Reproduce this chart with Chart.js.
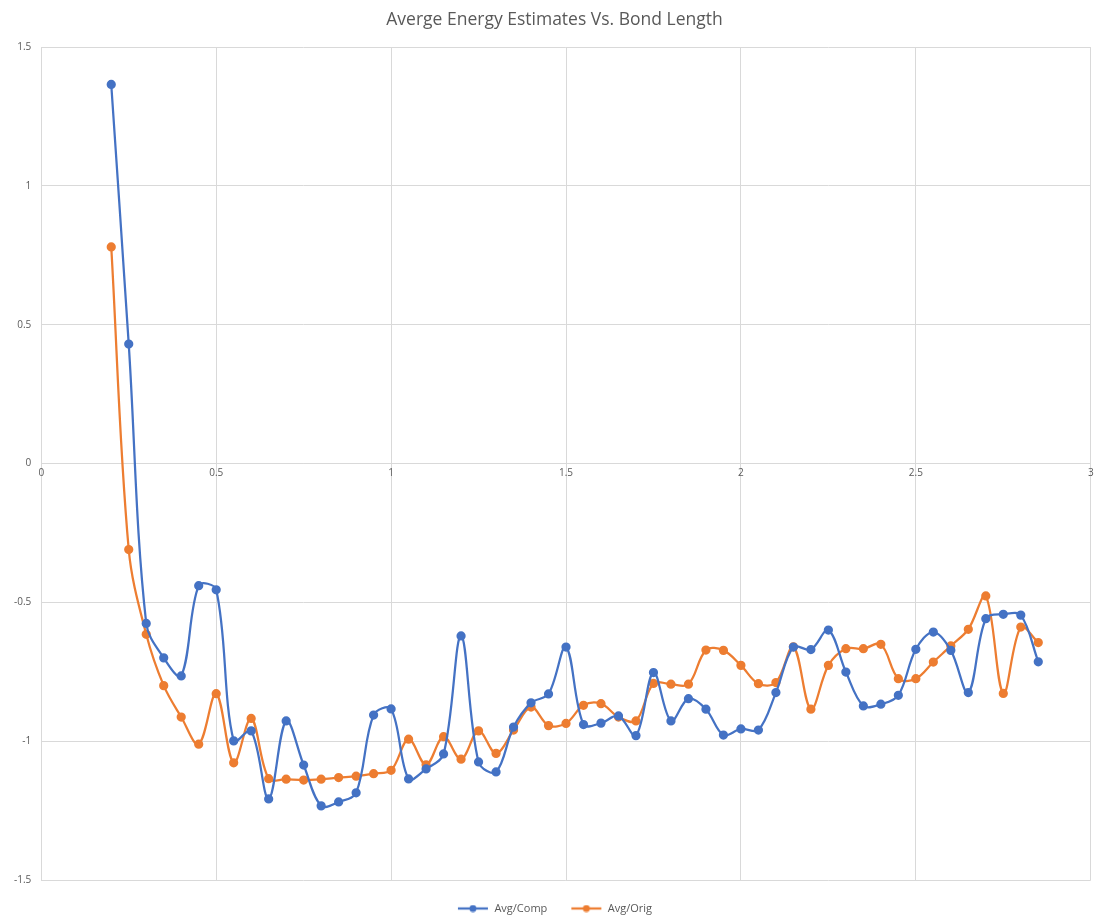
<!DOCTYPE html>
<html>
<head>
<meta charset="utf-8">
<script src="https://cdn.jsdelivr.net/npm/chart.js@4.4.1/dist/chart.umd.min.js"></script>
<style>
  html, body { margin: 0; padding: 0; background: #fff; }
  #wrap { width: 1097px; height: 918px; }
</style>
</head>
<body>
<div id="wrap"><canvas id="chart"></canvas></div>
<script>
const bondLength = [0.2, 0.25, 0.3, 0.35, 0.4, 0.45, 0.5, 0.55, 0.6, 0.65, 0.7, 0.75, 0.8, 0.85, 0.9, 0.95,
  1.0, 1.05, 1.1, 1.15, 1.2, 1.25, 1.3, 1.35, 1.4, 1.45, 1.5, 1.55, 1.6, 1.65, 1.7, 1.75, 1.8, 1.85, 1.9, 1.95,
  2.0, 2.05, 2.1, 2.15, 2.2, 2.25, 2.3, 2.35, 2.4, 2.45, 2.5, 2.55, 2.6, 2.65, 2.7, 2.75, 2.8, 2.85];

const avgComp = [1.365, 0.43, -0.576, -0.70, -0.765, -0.44, -0.455, -0.999, -0.963, -1.208, -0.927, -1.086,
  -1.233, -1.219, -1.186, -0.906, -0.884, -1.136, -1.10, -1.046, -0.621, -1.075, -1.111, -0.949, -0.862, -0.83,
  -0.661, -0.94, -0.935, -0.909, -0.98, -0.753, -0.927, -0.847, -0.885, -0.978, -0.956, -0.96, -0.825, -0.661,
  -0.67, -0.60, -0.751, -0.873, -0.867, -0.835, -0.669, -0.607, -0.673, -0.825, -0.559, -0.543, -0.546, -0.714];

const avgOrig = [0.78, -0.31, -0.615, -0.80, -0.913, -1.011, -0.829, -1.078, -0.918, -1.135, -1.137, -1.14,
  -1.137, -1.131, -1.126, -1.117, -1.105, -0.993, -1.085, -0.984, -1.065, -0.963, -1.044, -0.96, -0.877, -0.944,
  -0.936, -0.871, -0.865, -0.913, -0.927, -0.792, -0.795, -0.795, -0.672, -0.673, -0.727, -0.793, -0.789, -0.66,
  -0.885, -0.727, -0.667, -0.667, -0.651, -0.775, -0.775, -0.715, -0.657, -0.597, -0.477, -0.828, -0.589, -0.645];

const toPoints = vals => bondLength.map((x, i) => ({ x: x, y: vals[i] }));

const gridColor = '#d9d9d9';
const textColor = '#595959';
const fontFamily = '"Open Sans", "Liberation Sans", sans-serif';

// excel style legend key: short line with a dot in the middle
function legendKey(color) {
  const c = document.createElement('canvas');
  c.width = 32; c.height = 8;
  const g = c.getContext('2d');
  g.strokeStyle = color; g.lineWidth = 2.25;
  g.beginPath(); g.moveTo(1, 4); g.lineTo(31, 4); g.stroke();
  g.fillStyle = color;
  g.beginPath(); g.arc(16, 4, 3.5, 0, Math.PI * 2); g.fill();
  return c;
}

const fmt = v => String(Math.round(v * 10) / 10);

new Chart(document.getElementById('chart').getContext('2d'), {
  type: 'scatter',
  data: {
    datasets: [
      {
        label: 'Avg/Comp',
        data: toPoints(avgComp),
        showLine: true,
        borderColor: '#4472C4',
        backgroundColor: '#4472C4',
        borderWidth: 2.25,
        pointRadius: 3.5,
        tension: 0.35
      },
      {
        label: 'Avg/Orig',
        data: toPoints(avgOrig),
        showLine: true,
        borderColor: '#ED7D31',
        backgroundColor: '#ED7D31',
        borderWidth: 2.25,
        pointRadius: 3.5,
        tension: 0.35
      }
    ]
  },
  options: {
    responsive: true,
    maintainAspectRatio: false,
    animation: false,
    layout: { padding: { left: 4, right: -8, top: 6, bottom: -6 } },
    plugins: {
      title: {
        display: true,
        text: 'Averge Energy Estimates Vs. Bond Length',
        color: textColor,
        font: { family: fontFamily, size: 17.5, weight: 'normal' },
        padding: { top: 4, bottom: 16 }
      },
      legend: {
        position: 'bottom',
        labels: {
          color: textColor,
          font: { family: fontFamily, size: 11 },
          usePointStyle: true,
          pointStyleWidth: 32,
          padding: 23,
          generateLabels: chart => Chart.defaults.plugins.legend.labels.generateLabels(chart).map(l => {
            l.pointStyle = legendKey(chart.data.datasets[l.datasetIndex].borderColor);
            return l;
          })
        }
      },
      tooltip: { enabled: false }
    },
    scales: {
      x: {
        type: 'linear',
        min: 0,
        max: 3,
        position: { y: 0 },
        afterFit: s => { s.paddingRight = 0; },
        ticks: { stepSize: 0.5, color: textColor, font: { family: fontFamily, size: 10 }, padding: 4, callback: fmt },
        grid: { color: gridColor, drawTicks: false },
        border: { color: gridColor }
      },
      y: {
        min: -1.5,
        max: 1.5,
        ticks: { stepSize: 0.5, color: textColor, font: { family: fontFamily, size: 10 }, padding: 10, callback: fmt },
        grid: { color: gridColor, drawTicks: false },
        border: { display: false }
      }
    }
  }
});
</script>
</body>
</html>
